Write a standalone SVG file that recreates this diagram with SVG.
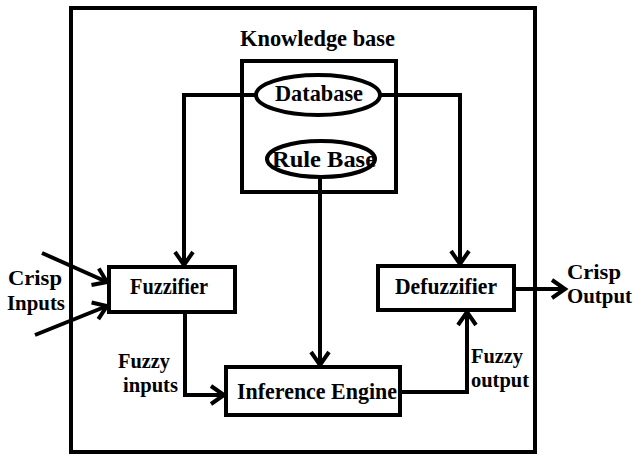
<svg xmlns="http://www.w3.org/2000/svg" width="633" height="455" viewBox="0 0 633 455">
<style>
.box{fill:#fff;stroke:#000;stroke-width:4}
.ln{fill:none;stroke:#000;stroke-width:4}
.t{font-family:"Liberation Serif","Times New Roman",serif;font-weight:bold;font-size:22.5px;fill:#000}
.c{text-anchor:middle}
.l{font-size:21px}
</style>
<defs>
<marker id="ah" markerUnits="userSpaceOnUse" viewBox="-2 -2 18 22" markerWidth="18" markerHeight="22" refX="13" refY="9" orient="auto" overflow="visible">
<path d="M0,0 L13,9 L0,18" fill="none" stroke="#000" stroke-width="4"/>
</marker>
</defs>
<rect id="frame" x="71" y="8" width="464" height="444" class="box" fill="none"/>
<g id="knowledge-base">
<text class="t c" x="317.5" y="46" textLength="155" lengthAdjust="spacingAndGlyphs">Knowledge base</text>
<rect x="242" y="61" width="154" height="131" class="box"/>
</g>
<g id="connectors">
<path class="ln" d="M256,95 H184 V265" marker-end="url(#ah)"/>
<path class="ln" d="M380,95 H460 V264" marker-end="url(#ah)"/>
<path class="ln" d="M320,176 V365" marker-end="url(#ah)"/>
<path class="ln" d="M185,314 V395 H224" marker-end="url(#ah)"/>
<path class="ln" d="M402,392 H467 V312" marker-end="url(#ah)"/>
<path class="ln" d="M516,289 H565" marker-end="url(#ah)"/>
<path class="ln" d="M42,253 L107,282" marker-end="url(#ah)"/>
<path class="ln" d="M35,335 L107,306" marker-end="url(#ah)"/>
</g>
<g id="database">
<ellipse cx="318" cy="95" rx="62" ry="20" class="box"/>
<text class="t c" x="319" y="101" textLength="88" lengthAdjust="spacingAndGlyphs">Database</text>
</g>
<g id="rule-base">
<ellipse cx="321" cy="159" rx="54" ry="18" class="box"/>
<text class="t c" x="324" y="167" textLength="104" lengthAdjust="spacingAndGlyphs">Rule Base</text>
</g>
<g id="fuzzifier">
<rect x="109" y="267" width="126" height="45" class="box"/>
<text class="t c" x="169" y="294" textLength="78" lengthAdjust="spacingAndGlyphs">Fuzzifier</text>
</g>
<g id="defuzzifier">
<rect x="378" y="266" width="136" height="44" class="box"/>
<text class="t c" x="446" y="294" textLength="102" lengthAdjust="spacingAndGlyphs">Defuzzifier</text>
</g>
<g id="inference-engine">
<rect x="226" y="367" width="174" height="48" class="box"/>
<text class="t c" x="317" y="399" textLength="160" lengthAdjust="spacingAndGlyphs">Inference Engine</text>
</g>
<g id="labels">
<text class="t l" x="8" y="285" textLength="54" lengthAdjust="spacingAndGlyphs">Crisp</text>
<text class="t l" x="7" y="310" textLength="58" lengthAdjust="spacingAndGlyphs">Inputs</text>
<text class="t l" x="567" y="279" textLength="54" lengthAdjust="spacingAndGlyphs">Crisp</text>
<text class="t l" x="567" y="303" textLength="65" lengthAdjust="spacingAndGlyphs">Output</text>
<text class="t l" x="118" y="368" textLength="52" lengthAdjust="spacingAndGlyphs">Fuzzy</text>
<text class="t l" x="123" y="392" textLength="55" lengthAdjust="spacingAndGlyphs">inputs</text>
<text class="t l" x="471" y="363" textLength="52" lengthAdjust="spacingAndGlyphs">Fuzzy</text>
<text class="t l" x="471" y="387" textLength="58" lengthAdjust="spacingAndGlyphs">output</text>
</g>
</svg>
